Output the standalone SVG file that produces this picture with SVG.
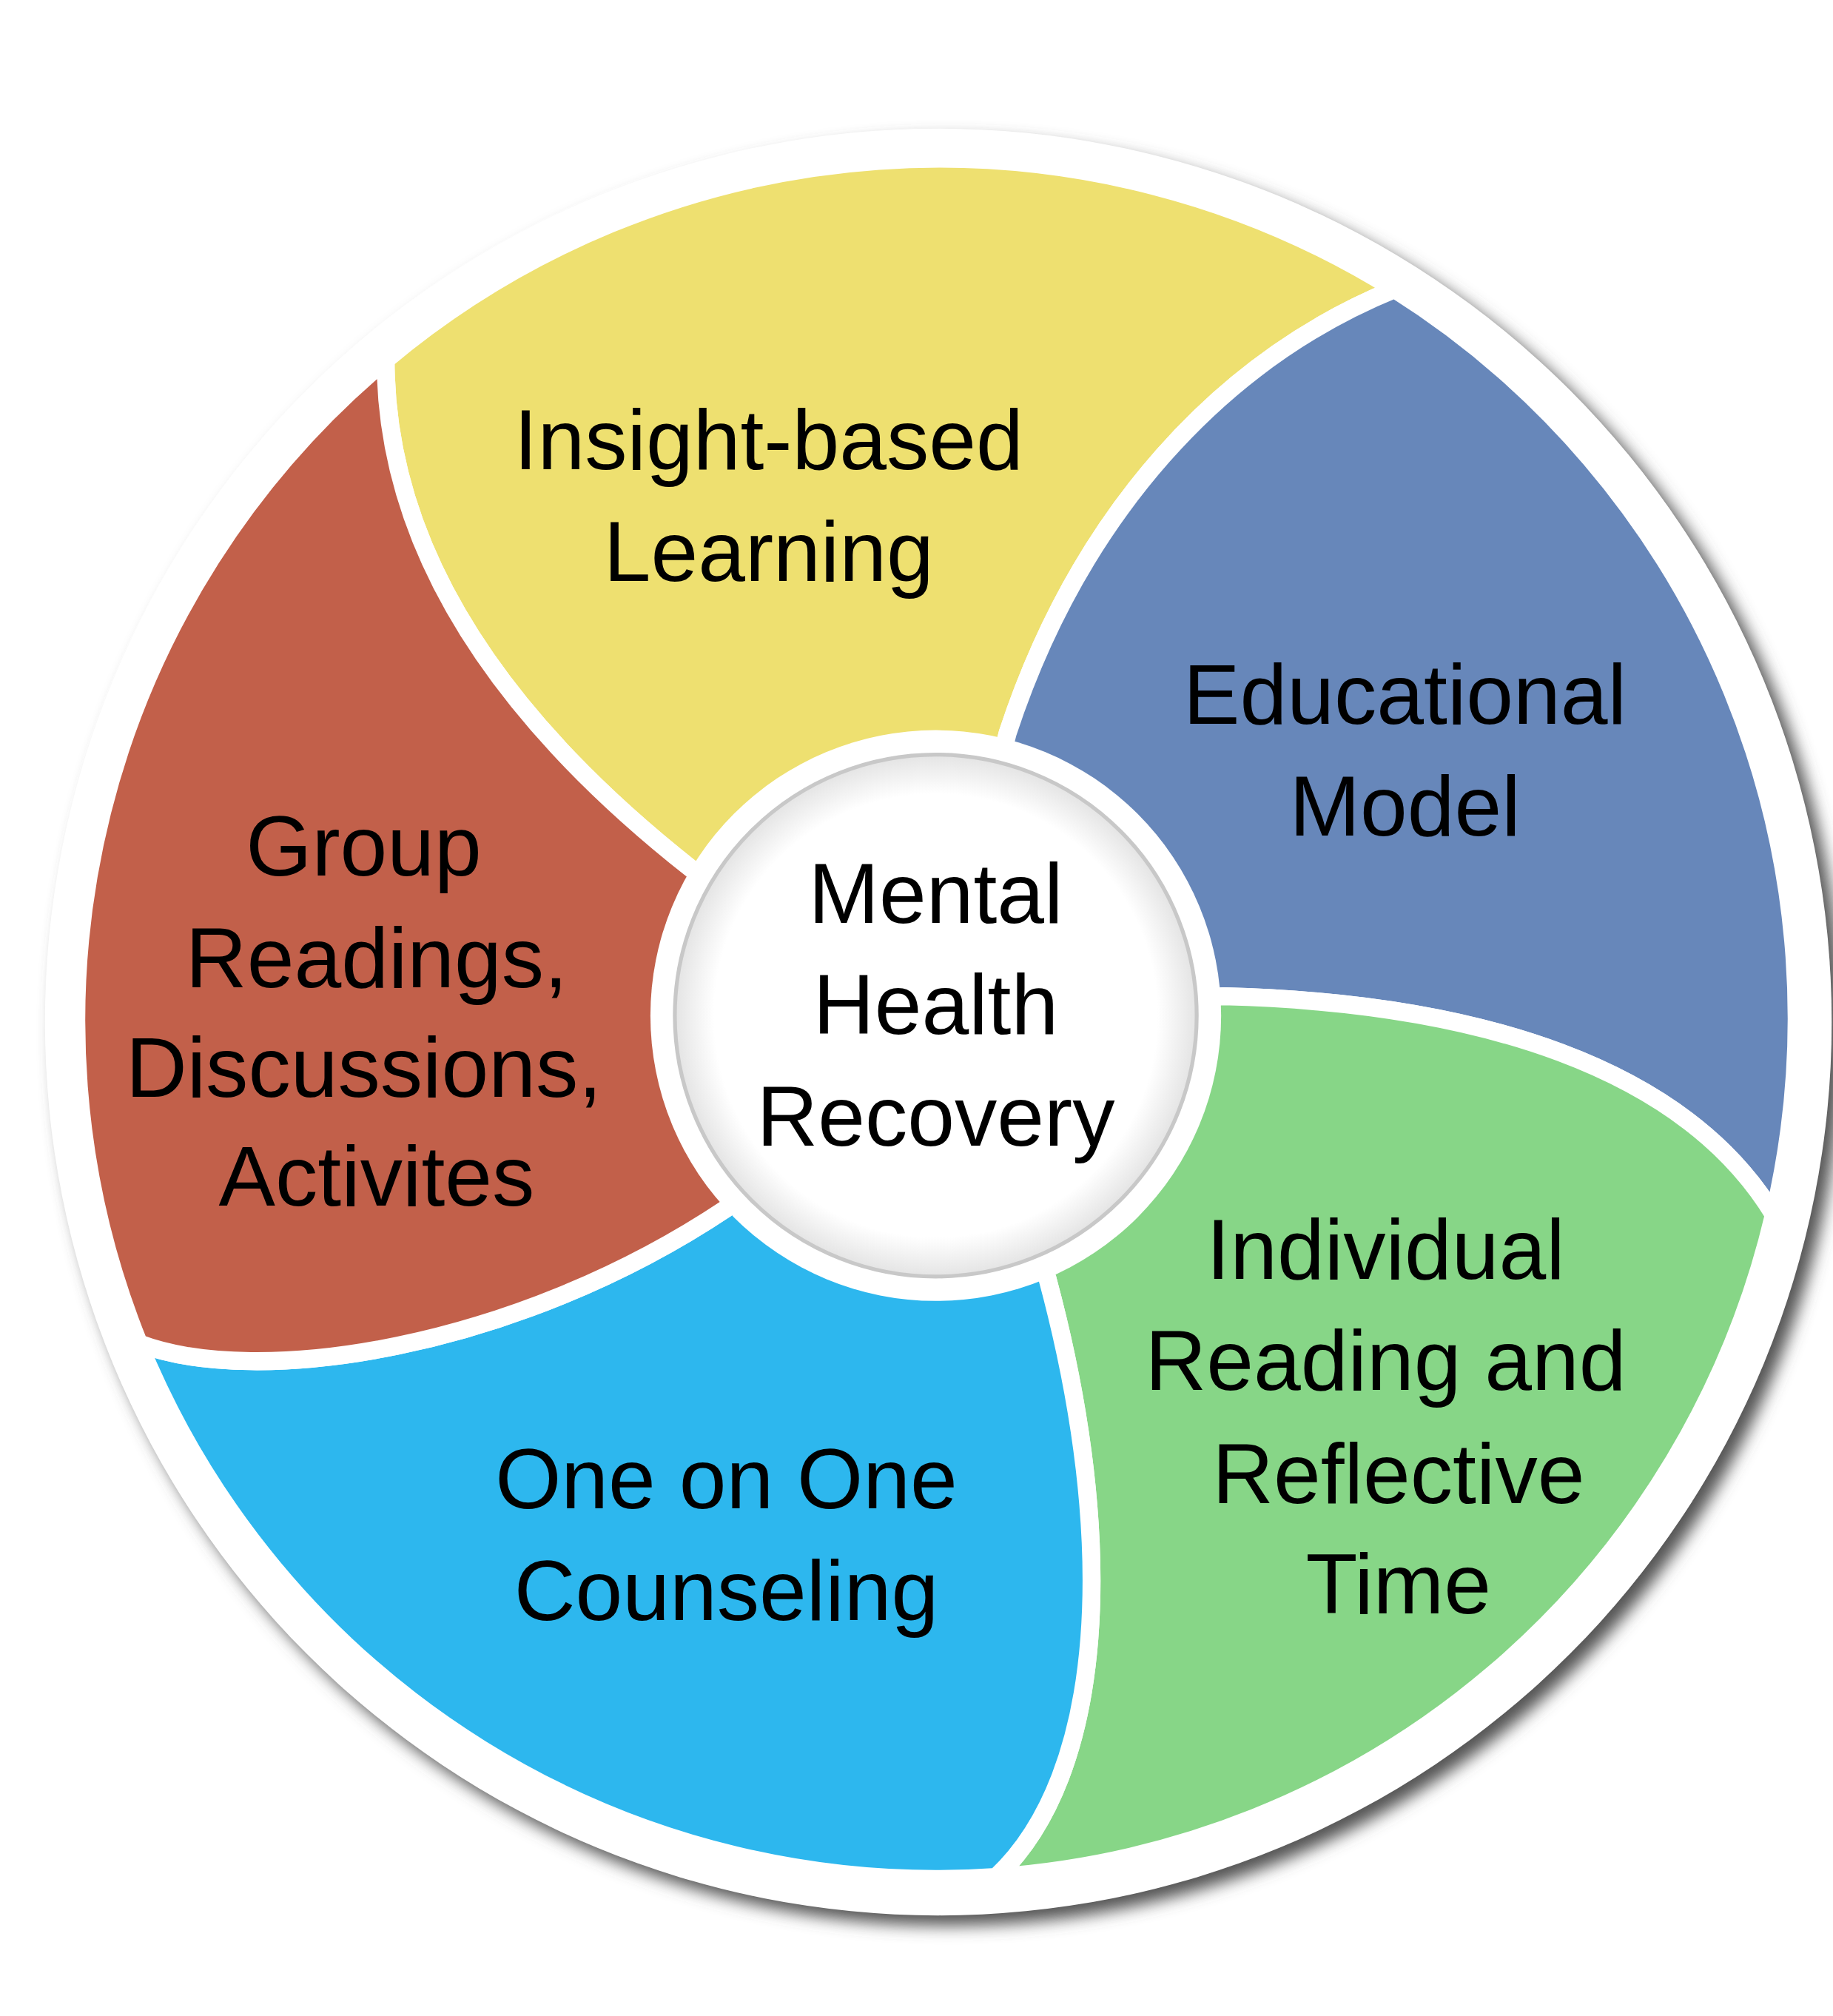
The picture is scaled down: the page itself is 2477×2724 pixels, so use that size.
<svg xmlns="http://www.w3.org/2000/svg" width="2477" height="2724" viewBox="0 0 2477 2724">
<defs>
<style>
.seg{stroke:#fff;stroke-width:14;stroke-linejoin:round}
.t{font-family:"Liberation Sans",Arial,sans-serif;font-size:66px;fill:#000;text-anchor:middle}
</style>
<filter id="sh" x="-10%" y="-10%" width="120%" height="120%"><feGaussianBlur stdDeviation="6"/></filter>
<radialGradient id="ig" cx="50%" cy="50%" r="50%"><stop offset="85%" stop-color="#fff"/><stop offset="100%" stop-color="#e4e4e4"/></radialGradient>
</defs>
<rect width="2477" height="2724" fill="#fff"/>
<g transform="scale(1.737)">
<circle cx="738" cy="803" r="695" fill="#555" filter="url(#sh)"/>
<circle cx="730" cy="795" r="695" fill="#fff"/>
<g id="insight"><path class="seg" fill="#EEE070" d="M538,676 C340,520 300,380 300,280 A670,670 0 0 1 1085,225 C950,280 840,400 784,570 L728,790 Z"/>
<text class="t" x="598" y="365">Insight-based</text><text class="t" x="598" y="452">Learning</text></g>
<g id="educational"><path class="seg" fill="#6787BA" d="M784,570 C840,400 950,280 1085,225 A670,670 0 0 1 1380,945 C1310,830 1150,780 952,775 L728,790 Z"/>
<text class="t" x="1093" y="563">Educational</text><text class="t" x="1093" y="650">Model</text></g>
<g id="individual"><path class="seg" fill="#87D687" d="M952,775 C1150,780 1310,830 1380,945 A670,670 0 0 1 775,1460 C860,1380 870,1200 815,995 L728,790 Z"/>
<text class="t" x="1078" y="995">Individual</text><text class="t" x="1078" y="1081">Reading and</text><text class="t" x="1088" y="1169">Reflective</text><text class="t" x="1088" y="1255">Time</text></g>
<g id="counseling"><path class="seg" fill="#2DB7EE" d="M815,995 C870,1200 860,1380 775,1460 A670,670 0 0 1 108,1045 C200,1080 400,1050 565,940 L728,790 Z"/>
<text class="t" x="565" y="1173">One on One</text><text class="t" x="565" y="1260">Counseling</text></g>
<g id="group"><path class="seg" fill="#C2604A" d="M565,940 C400,1050 200,1080 108,1045 A670,670 0 0 1 300,280 C300,380 340,520 538,676 L728,790 Z"/>
<text class="t" x="283" y="681">Group</text><text class="t" x="293" y="768">Readings,</text><text class="t" x="283" y="853">Discussions,</text><text class="t" x="293" y="938">Activites</text></g>
<g id="center"><circle cx="728" cy="790" r="222" fill="#fff"/>
<circle cx="728" cy="790" r="203" fill="url(#ig)" stroke="#c8c8c8" stroke-width="3"/>
<text class="t" x="728" y="718">Mental</text><text class="t" x="728" y="804">Health</text><text class="t" x="728" y="891">Recovery</text></g>
<g id="connectors"/>
</g>
</svg>
